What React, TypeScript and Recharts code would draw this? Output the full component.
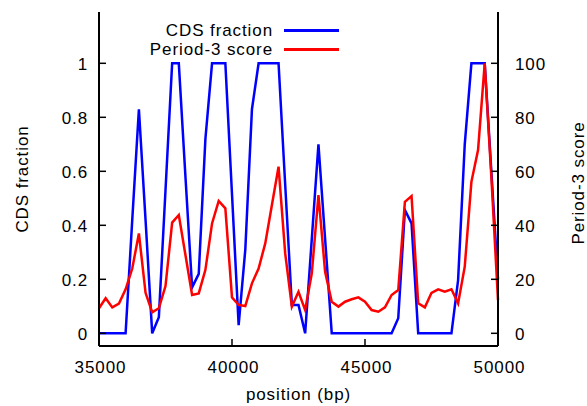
import { ComposedChart, Legend, Line, XAxis, YAxis } from "recharts";

// window position (bp), one sample every 250 bp
const positions = [
  35000, 35250, 35500, 35750, 36000, 36250, 36500, 36750, 37000, 37250,
  37500, 37750, 38000, 38250, 38500, 38750, 39000, 39250, 39500, 39750,
  40000, 40250, 40500, 40750, 41000, 41250, 41500, 41750, 42000, 42250,
  42500, 42750, 43000, 43250, 43500, 43750, 44000, 44250, 44500, 44750,
  45000, 45250, 45500, 45750, 46000, 46250, 46500, 46750, 47000, 47250,
  47500, 47750, 48000, 48250, 48500, 48750, 49000, 49250, 49500, 49750,
  50000,
];

const cdsFraction = [
  0, 0, 0, 0, 0, 0.42, 0.83, 0.42, 0, 0.06,
  0.53, 1, 1, 0.58, 0.17, 0.22, 0.72, 1, 1, 1,
  0.515, 0.03, 0.31, 0.83, 1, 1, 1, 1, 0.55, 0.105,
  0.105, 0, 0.35, 0.7, 0.35, 0, 0, 0, 0, 0,
  0, 0, 0, 0, 0, 0.056, 0.457, 0.407, 0, 0,
  0, 0, 0, 0, 0.197, 0.7, 1, 1, 1, 0.6,
  0.2,
];

const period3Score = [
  9.3, 13, 9.6, 11, 16.3, 24, 37, 15, 7.8, 9.3,
  17.5, 41, 43.8, 29, 14.2, 14.8, 23.5, 40.7, 49, 46.3,
  13.3, 10.5, 10.1, 18.5, 24, 33.3, 47.5, 61.7, 29.6, 9.9,
  15.4, 8.6, 22.2, 51.2, 22.8, 11.7, 9.9, 11.7, 12.6, 13.3,
  11.7, 8.6, 8, 9.6, 14.2, 16, 48.7, 50.8, 11.1, 9.6,
  15, 16.3, 15.4, 16.3, 11.1, 24.7, 56.1, 67.9, 100, 58,
  12.3,
];

const xTicks = [35000, 40000, 45000, 50000];
const cdsTicks = [0, 0.2, 0.4, 0.6, 0.8, 1];
const scoreTicks = [0, 20, 40, 60, 80, 100];

const FONT = "'Liberation Sans', Arial, Helvetica, sans-serif";
const FONT_SIZE = 17;
const SPACING = 0.9;
const AXIS = { stroke: "#000", strokeWidth: 2 };
const TICK = { stroke: "#000", strokeWidth: 1.5 };

const textProps = {
  fontFamily: FONT,
  fontSize: FONT_SIZE,
  letterSpacing: SPACING,
  fill: "#000",
};

function BottomTick({ x, y, payload }: any) {
  return (
    <text x={x + 1.5} y={y + 12} textAnchor="middle" {...textProps}>
      {payload.value}
    </text>
  );
}

function LeftTick({ x, y, payload }: any) {
  return (
    <text x={x} y={y + 7} textAnchor="end" {...textProps}>
      {String(payload.value)}
    </text>
  );
}

function RightTick({ x, y, payload }: any) {
  return (
    <text x={x} y={y + 6.5} textAnchor="start" {...textProps}>
      {payload.value}
    </text>
  );
}

function SideTitle({ viewBox, text, baseX, dy = 0 }: any) {
  const cy = viewBox.y + viewBox.height / 2 + dy;
  return (
    <text
      x={baseX}
      y={cy}
      textAnchor="middle"
      transform={`rotate(-90 ${baseX} ${cy})`}
      {...textProps}
    >
      {text}
    </text>
  );
}

function BottomTitle({ viewBox }: any) {
  return (
    <text
      x={viewBox.x + viewBox.width / 2}
      y={400}
      textAnchor="middle"
      {...textProps}
    >
      position (bp)
    </text>
  );
}

function KeyBox({ payload }: any) {
  return (
    <div style={{ fontFamily: FONT }}>
      {(payload ?? []).map((entry: any) => (
        <div
          key={entry.value}
          style={{
            display: "flex",
            alignItems: "center",
            justifyContent: "flex-end",
            height: 19,
          }}
        >
          <span
            style={{
              fontSize: FONT_SIZE,
              letterSpacing: SPACING,
              lineHeight: "19px",
              color: "#000",
            }}
          >
            {entry.value}
          </span>
          <span
            style={{
              display: "inline-block",
              width: 55,
              height: 2.5,
              marginLeft: 11,
              background: entry.color,
            }}
          />
        </div>
      ))}
    </div>
  );
}

export default function App() {
  const data = positions.map((pos, i) => ({
    pos,
    cds: cdsFraction[i],
    score: period3Score[i],
  }));

  return (
    <div
      style={{
        position: "absolute",
        left: 0,
        top: 0,
        width: 587,
        height: 406,
        background: "#fff",
        fontFamily: FONT,
      }}
    >
      <ComposedChart
        width={587}
        height={406}
        data={data}
        margin={{ top: 12, right: 0, bottom: 0, left: 0 }}
      >
        <XAxis
          dataKey="pos"
          type="number"
          domain={[35000, 50000]}
          ticks={xTicks}
          interval={0}
          height={60}
          axisLine={AXIS}
          tickLine={TICK}
          tickSize={-7}
          tickMargin={22}
          tick={<BottomTick />}
          label={<BottomTitle />}
        />
        {/* mirrored top border with inward ticks */}
        <XAxis
          xAxisId="top"
          orientation="top"
          type="number"
          domain={[35000, 50000]}
          ticks={xTicks}
          interval={0}
          height={0}
          axisLine={AXIS}
          tickLine={TICK}
          tickSize={-7}
          tick={false}
        />
        <YAxis
          yAxisId="left"
          orientation="left"
          type="number"
          domain={[-0.047, 1.19]}
          ticks={cdsTicks}
          interval={0}
          width={99}
          axisLine={AXIS}
          tickLine={TICK}
          tickSize={-7}
          tickMargin={18}
          tick={<LeftTick />}
          label={<SideTitle text="CDS fraction" baseX={28} />}
        />
        <YAxis
          yAxisId="right"
          orientation="right"
          type="number"
          domain={[-4.7, 119]}
          ticks={scoreTicks}
          interval={0}
          width={89}
          axisLine={AXIS}
          tickLine={TICK}
          tickSize={-7}
          tickMargin={24}
          tick={<RightTick />}
          label={<SideTitle text="Period-3 score" baseX={584} dy={4} />}
        />
        <Legend
          layout="vertical"
          align="center"
          verticalAlign="middle"
          content={<KeyBox />}
          wrapperStyle={{ left: 139, top: 21, width: 200 }}
        />
        <Line
          yAxisId="left"
          type="linear"
          dataKey="cds"
          name="CDS fraction"
          stroke="#0000ff"
          strokeWidth={2.5}
          strokeLinejoin="miter"
          dot={false}
          activeDot={false}
          isAnimationActive={false}
        />
        <Line
          yAxisId="right"
          type="linear"
          dataKey="score"
          name="Period-3 score"
          stroke="#ff0000"
          strokeWidth={2.5}
          strokeLinejoin="miter"
          dot={false}
          activeDot={false}
          isAnimationActive={false}
        />
      </ComposedChart>
    </div>
  );
}
